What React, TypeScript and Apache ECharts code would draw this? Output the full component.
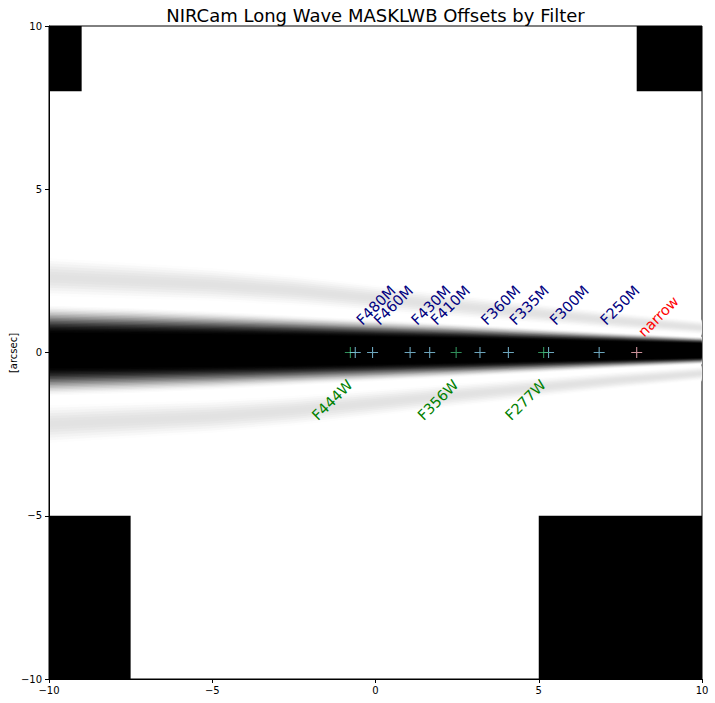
import React, { useEffect, useRef } from 'react';
import * as echarts from 'echarts';

// ---------- text ----------
const TITLE = 'NIRCam Long Wave MASKLWB Offsets by Filter';
const Y_LABEL = '[arcsec]';
const AXIS_MIN = -10;
const AXIS_MAX = 10;
const AXIS_STEP = 5;

// ---------- filter offsets (arcsec along the bar) ----------
const FILTER_NAMES = ['F250M', 'F300M', 'F277W', 'F335M', 'F360M', 'F356W', 'F410M', 'F430M', 'F460M', 'F444W', 'F480M', 'narrow'];
const FILTER_OFFSETS = [6.85, 5.3, 5.15, 4.07, 3.2, 2.47, 1.66, 1.06, -0.09, -0.77, -0.62, 8.0];
const FILTER_KINDS = ['medium', 'medium', 'wide', 'medium', 'medium', 'wide', 'medium', 'medium', 'medium', 'wide', 'medium', 'narrow'];

// ---------- wedge (bar occulter) profile ----------
const WEDGE_X = [-10, -7.5, -5, -2.5, 0, 2.5, 5, 7.5, 10];
const WEDGE_CENTER = 0.06;
const CORE_BLACK_HALF = [0.5, 0.48, 0.46, 0.43, 0.39, 0.35, 0.3, 0.25, 0.2];
const CORE_EDGE_HALF = [1.42, 1.34, 1.23, 1.1, 0.97, 0.84, 0.7, 0.56, 0.43];
const LOBE_OFFSET = [2.25, 2.14, 2.02, 1.84, 1.6, 1.36, 1.13, 0.9, 0.7];
const LOBE_HALF = [0.66, 0.62, 0.57, 0.52, 0.46, 0.4, 0.34, 0.29, 0.24];

// ---------- opaque regions of the mask ----------
const MASK_X0 = [-10, 8, -10, 5];
const MASK_X1 = [-9, 10, -7.5, 10];
const MASK_Y0 = [8, 8, -10, -10];
const MASK_Y1 = [10, 10, -5, -5];

// ---------- styles ----------
const FONT = '"DejaVu Sans", "Liberation Sans", sans-serif';
const MARKER_COLORS: Record<string, string> = { medium: '#87CEEB', wide: '#3CB371', narrow: '#FFB6C1' };
const TEXT_COLORS: Record<string, string> = { medium: '#000080', wide: '#008000', narrow: '#FF0000' };
const PLUS = 'path://M4.5,0 L5.5,0 L5.5,4.5 L10,4.5 L10,5.5 L5.5,5.5 L5.5,10 L4.5,10 L4.5,5.5 L0,5.5 L0,4.5 L4.5,4.5 Z';
const CORE_LEVELS = 20;
const LOBE_LEVELS = 8;
const LOBE_PEAK_DARK = 0.115;

const minus = (v: number) => String(v).replace('-', '\u2212');

function bandPoints(params: any, api: any, centers: number[], halves: number[]) {
  const cs = params.coordSys;
  const xl = cs.x + 1;
  const xr = cs.x + cs.width - 0.5;
  const clampX = (p: number[]) => [Math.min(xr, Math.max(xl, p[0])), p[1]];
  const top: number[][] = [];
  const bottom: number[][] = [];
  for (let i = 0; i < WEDGE_X.length; i++) {
    top.push(clampX(api.coord([WEDGE_X[i], centers[i] + halves[i]])));
  }
  for (let i = WEDGE_X.length - 1; i >= 0; i--) {
    bottom.push(clampX(api.coord([WEDGE_X[i], centers[i] - halves[i]])));
  }
  return top.concat(bottom);
}

function grayOf(d: number) {
  const g = Math.round(255 * (1 - d));
  return `rgb(${g},${g},${g})`;
}

function renderWedge(params: any, api: any) {
  const children: any[] = [];
  const n = WEDGE_X.length;
  const center = WEDGE_X.map(() => WEDGE_CENTER);
  // side lobes
  for (const sgn of [1, -1]) {
    const lobeCenter = LOBE_OFFSET.map((o) => WEDGE_CENTER + sgn * o);
    for (let k = 0; k < LOBE_LEVELS; k++) {
      const f = 1 - k / LOBE_LEVELS;
      const halves = LOBE_HALF.map((h) => h * f);
      const u = (k + 0.5) / LOBE_LEVELS;
      const d = LOBE_PEAK_DARK * (0.5 - 0.5 * Math.cos(Math.PI * u));
      children.push({ type: 'polygon', shape: { points: bandPoints(params, api, lobeCenter, halves) }, style: { fill: grayOf(d) }, silent: true });
    }
  }
  // core
  for (let k = 0; k < CORE_LEVELS; k++) {
    const halves: number[] = [];
    for (let i = 0; i < n; i++) {
      halves.push(CORE_EDGE_HALF[i] - (CORE_EDGE_HALF[i] - CORE_BLACK_HALF[i]) * (k / CORE_LEVELS));
    }
    const u = (k + 0.5) / CORE_LEVELS;
    const d = 0.5 - 0.5 * Math.cos(Math.PI * u);
    children.push({ type: 'polygon', shape: { points: bandPoints(params, api, center, halves) }, style: { fill: grayOf(d) }, silent: true });
  }
  children.push({ type: 'polygon', shape: { points: bandPoints(params, api, center, CORE_BLACK_HALF) }, style: { fill: '#000' }, silent: true });
  return { type: 'group', children };
}

function renderMask(params: any, api: any) {
  const p0 = api.coord([api.value(0), api.value(3)]);
  const p1 = api.coord([api.value(1), api.value(2)]);
  return {
    type: 'rect',
    shape: { x: p0[0], y: p0[1], width: p1[0] - p0[0], height: p1[1] - p0[1] },
    style: { fill: '#000' },
    silent: true,
  };
}

function renderLabel(params: any, api: any) {
  const i = params.dataIndex;
  const kind = FILTER_KINDS[i];
  const x = FILTER_OFFSETS[i];
  let pos: number[];
  if (kind === 'wide') pos = api.coord([x - 1.1, -2.0]);
  else if (kind === 'narrow') pos = api.coord([x + 0.12, 0.56]);
  else pos = api.coord([x + 0.11, 0.92]);
  return {
    type: 'text',
    x: pos[0],
    y: pos[1],
    rotation: Math.PI / 4,
    style: {
      text: FILTER_NAMES[i],
      fill: TEXT_COLORS[kind],
      fontSize: 14.5,
      fontFamily: FONT,
      align: 'left',
      verticalAlign: 'middle',
    },
    silent: true,
  };
}

export default function App() {
  const ref = useRef<HTMLDivElement>(null);
  useEffect(() => {
    if (!ref.current) return;
    const chart = echarts.init(ref.current, null, { renderer: 'svg' });
    const maskData = MASK_X0.map((x0, i) => [x0, MASK_X1[i], MASK_Y0[i], MASK_Y1[i]]);
    const markerData = FILTER_OFFSETS.map((x, i) => ({
      value: [x, 0],
      itemStyle: { color: MARKER_COLORS[FILTER_KINDS[i]] },
    }));
    const labelData = FILTER_OFFSETS.map((x) => [x, 0]);
    const axisCommon = {
      type: 'value' as const,
      min: AXIS_MIN,
      max: AXIS_MAX,
      interval: AXIS_STEP,
      splitLine: { show: false },
      axisLine: { show: true, onZero: false, lineStyle: { color: '#000', width: 1 } },
      axisTick: { show: true, inside: false, length: 4, lineStyle: { color: '#000', width: 1 } },
    };
    chart.setOption({
      animation: false,
      backgroundColor: '#fff',
      textStyle: { fontFamily: FONT },
      grid: { left: 49, right: 13, top: 26, bottom: 24, show: true, borderColor: '#000', borderWidth: 1, backgroundColor: 'transparent' },
      xAxis: {
        ...axisCommon,
        axisLabel: { color: '#000', fontSize: 10, fontFamily: FONT, margin: 6, formatter: minus },
      },
      yAxis: {
        ...axisCommon,
        axisLabel: { color: '#000', fontSize: 10, fontFamily: FONT, margin: 7, formatter: minus },
      },
      graphic: [
        {
          type: 'text',
          x: 375.5,
          y: 15,
          style: { text: TITLE, fontSize: 18, fontFamily: FONT, fill: '#000', align: 'center', verticalAlign: 'middle' },
        },
        {
          type: 'text',
          x: 13,
          y: 353,
          rotation: Math.PI / 2,
          style: { text: Y_LABEL, fontSize: 10, fontFamily: FONT, fill: '#000', align: 'center', verticalAlign: 'middle' },
        },
      ],
      series: [
        {
          type: 'custom',
          name: 'wedge',
          clip: true,
          z: 1,
          renderItem: renderWedge,
          data: [[0, 0]],
          silent: true,
        },
        {
          type: 'custom',
          name: 'mask',
          clip: true,
          z: 2,
          renderItem: renderMask,
          encode: { x: [0, 1], y: [2, 3] },
          data: maskData,
          silent: true,
        },
        {
          type: 'scatter',
          name: 'offsets',
          z: 3,
          symbol: PLUS,
          symbolSize: 11,
          data: markerData,
          silent: true,
        },
        {
          type: 'custom',
          name: 'labels',
          z: 4,
          renderItem: renderLabel,
          data: labelData,
          silent: true,
        },
      ],
    });
    return () => chart.dispose();
  }, []);
  return <div ref={ref} style={{ position: 'fixed', left: 0, top: 0, width: 715, height: 703 }} />;
}
